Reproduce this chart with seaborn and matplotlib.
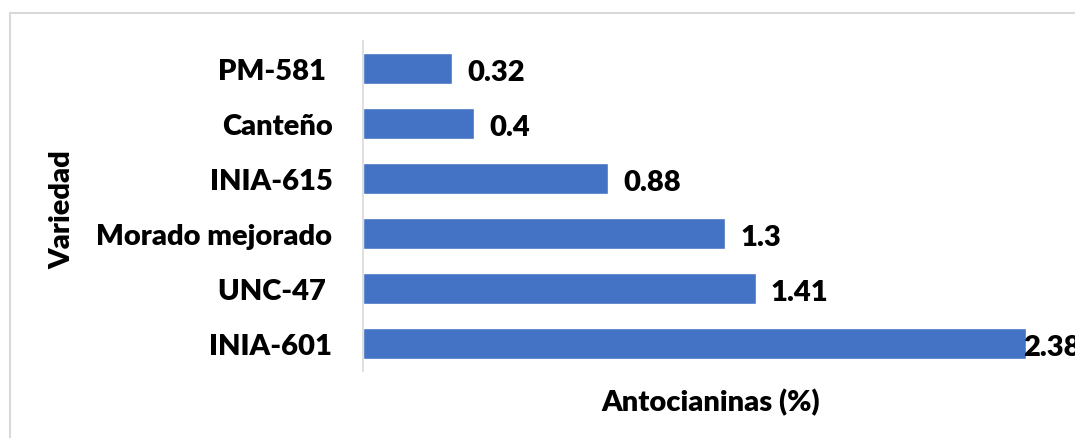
import matplotlib
matplotlib.use("Agg")
import matplotlib.pyplot as plt
import seaborn as sns
import pandas as pd
from matplotlib.patches import Rectangle

variedades = ["PM-581 ", "Canteño", "INIA-615", "Morado mejorado", "UNC-47 ", "INIA-601"]
antocianinas = [0.32, 0.4, 0.88, 1.3, 1.41, 2.38]

sns.set_theme(style="white")
plt.rcParams["font.family"] = ["Lato", "DejaVu Sans"]

df = pd.DataFrame({"Variedad": variedades, "Antocianinas": antocianinas})

fig = plt.figure(figsize=(10.75, 4.39), dpi=100)
ax = fig.add_axes([363 / 1075, 1 - 372 / 439, (1059 - 363) / 1075, 330 / 439])

sns.barplot(data=df, x="Antocianinas", y="Variedad", orient="h",
            color="#4472C4", saturation=1, width=0.56, ax=ax)

ax.set_xlim(0, 2.5)
ax.set_ylim(5.5, -0.5)

fs = 21
wt = "heavy"
for i, v in enumerate(antocianinas):
    off = 11 if v < 2.3 else -2
    ax.annotate(f"{v:g}", xy=(v, i), xytext=(off, -2.5), textcoords="offset points",
                ha="left", va="center", fontsize=fs, fontweight=wt,
                color="black", annotation_clip=False)

ax.set_xticks([])
ax.tick_params(axis="y", length=0, pad=22, labelsize=fs)
for lbl in ax.get_yticklabels():
    lbl.set_fontweight(wt)
    lbl.set_color("black")

for side in ["top", "right", "bottom"]:
    ax.spines[side].set_visible(False)
ax.spines["left"].set_color("#d9d9d9")
ax.spines["left"].set_linewidth(1.2)

ax.set_xlabel("Antocianinas (%)", fontsize=fs, fontweight=wt, color="black", labelpad=12)
ax.set_ylabel("")
fig.text(62 / 1075, 1 - 210 / 439, "Variedad", rotation=90, ha="center", va="center",
         fontsize=fs, fontweight=wt, color="black")

# chart frame
fig.patches.append(Rectangle((9.5 / 1075, -0.1), 1.2, 1 - 13.5 / 439 + 0.1,
                             transform=fig.transFigure, fill=False,
                             edgecolor="#d9d9d9", linewidth=1.5))

fig.savefig("out.png", dpi=100, facecolor="white")
